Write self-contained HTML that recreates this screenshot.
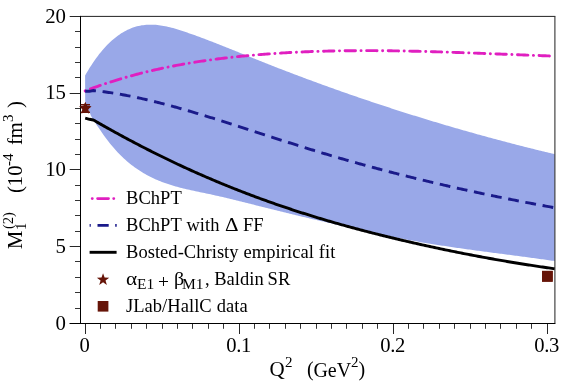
<!DOCTYPE html>
<html><head><meta charset="utf-8"><title>plot</title>
<style>
html,body{margin:0;padding:0;background:#fff;}
body{width:581px;height:388px;position:relative;overflow:hidden;font-family:"Liberation Serif",serif;color:#000;}
.t{position:absolute;white-space:pre;line-height:1;font-size:20px;}
.yl{text-align:right;width:40px;left:26px;}
.xl{text-align:center;width:60px;}
.lg{word-spacing:0.35px;letter-spacing:0.04px;}
.rot{transform-origin:0 0;transform:rotate(-90deg);}
</style></head><body>
<svg width="581" height="388" viewBox="0 0 581 388" style="position:absolute;left:0;top:0">
<rect width="581" height="388" fill="#fff"/>
<clipPath id="c"><rect x="80.5" y="16.4" width="474.4" height="307.1"/></clipPath>
<g clip-path="url(#c)">
<path d="M85.10,75.47 L86.67,72.76 L88.24,70.13 L89.81,67.60 L91.38,65.14 L92.96,62.78 L94.53,60.49 L96.10,58.29 L97.67,56.17 L99.24,54.12 L100.81,52.16 L102.38,50.28 L103.95,48.47 L105.53,46.74 L107.10,45.08 L108.67,43.50 L110.24,41.99 L111.81,40.55 L113.38,39.18 L114.95,37.88 L116.52,36.65 L118.10,35.48 L119.67,34.38 L121.24,33.35 L122.81,32.38 L124.38,31.48 L125.95,30.63 L127.52,29.85 L129.09,29.13 L130.67,28.46 L132.24,27.85 L133.81,27.30 L135.38,26.81 L136.95,26.37 L138.52,25.98 L140.09,25.65 L141.66,25.36 L143.24,25.13 L144.81,24.94 L146.38,24.81 L147.95,24.71 L149.52,24.66 L151.09,24.65 L152.66,24.69 L154.23,24.76 L155.81,24.87 L157.38,25.01 L158.95,25.19 L160.52,25.41 L162.09,25.65 L163.66,25.93 L165.23,26.23 L166.80,26.56 L168.38,26.91 L169.95,27.29 L171.52,27.69 L173.09,28.12 L174.66,28.56 L176.23,29.02 L177.80,29.49 L179.37,29.98 L180.95,30.48 L182.52,31.00 L184.09,31.52 L185.66,32.05 L187.23,32.59 L188.80,33.14 L190.37,33.69 L191.94,34.24 L193.52,34.80 L195.09,35.37 L196.66,35.94 L198.23,36.51 L199.80,37.09 L201.37,37.67 L202.94,38.26 L204.51,38.85 L206.09,39.44 L207.66,40.04 L209.23,40.64 L210.80,41.25 L212.37,41.86 L213.94,42.47 L215.51,43.08 L217.08,43.69 L218.66,44.31 L220.23,44.93 L221.80,45.55 L223.37,46.18 L224.94,46.80 L226.51,47.43 L228.08,48.06 L229.65,48.69 L231.23,49.32 L232.80,49.96 L234.37,50.59 L235.94,51.23 L237.51,51.86 L239.08,52.50 L240.65,53.13 L242.22,53.77 L243.79,54.40 L245.37,55.04 L246.94,55.68 L248.51,56.31 L250.08,56.94 L251.65,57.58 L253.22,58.21 L254.79,58.84 L256.36,59.47 L257.94,60.10 L259.51,60.73 L261.08,61.35 L262.65,61.98 L264.22,62.60 L265.79,63.22 L267.36,63.84 L268.93,64.46 L270.51,65.08 L272.08,65.69 L273.65,66.31 L275.22,66.92 L276.79,67.53 L278.36,68.14 L279.93,68.75 L281.50,69.36 L283.08,69.96 L284.65,70.57 L286.22,71.17 L287.79,71.77 L289.36,72.37 L290.93,72.97 L292.50,73.57 L294.07,74.16 L295.65,74.76 L297.22,75.35 L298.79,75.94 L300.36,76.53 L301.93,77.12 L303.50,77.71 L305.07,78.29 L306.64,78.88 L308.22,79.46 L309.79,80.04 L311.36,80.62 L312.93,81.20 L314.50,81.78 L316.07,82.36 L317.64,82.93 L319.21,83.50 L320.79,84.07 L322.36,84.65 L323.93,85.21 L325.50,85.78 L327.07,86.35 L328.64,86.91 L330.21,87.48 L331.78,88.04 L333.36,88.60 L334.93,89.16 L336.50,89.72 L338.07,90.27 L339.64,90.83 L341.21,91.38 L342.78,91.94 L344.35,92.49 L345.93,93.04 L347.50,93.58 L349.07,94.13 L350.64,94.68 L352.21,95.22 L353.78,95.76 L355.35,96.30 L356.92,96.84 L358.50,97.38 L360.07,97.92 L361.64,98.46 L363.21,98.99 L364.78,99.52 L366.35,100.06 L367.92,100.59 L369.49,101.12 L371.07,101.64 L372.64,102.17 L374.21,102.69 L375.78,103.22 L377.35,103.74 L378.92,104.26 L380.49,104.78 L382.06,105.30 L383.64,105.82 L385.21,106.33 L386.78,106.85 L388.35,107.36 L389.92,107.87 L391.49,108.38 L393.06,108.89 L394.63,109.40 L396.21,109.90 L397.78,110.41 L399.35,110.91 L400.92,111.41 L402.49,111.91 L404.06,112.41 L405.63,112.91 L407.20,113.41 L408.77,113.90 L410.35,114.39 L411.92,114.89 L413.49,115.38 L415.06,115.87 L416.63,116.36 L418.20,116.84 L419.77,117.33 L421.34,117.81 L422.92,118.30 L424.49,118.78 L426.06,119.26 L427.63,119.74 L429.20,120.22 L430.77,120.69 L432.34,121.17 L433.91,121.64 L435.49,122.12 L437.06,122.59 L438.63,123.06 L440.20,123.53 L441.77,123.99 L443.34,124.46 L444.91,124.92 L446.48,125.39 L448.06,125.85 L449.63,126.31 L451.20,126.77 L452.77,127.23 L454.34,127.68 L455.91,128.14 L457.48,128.59 L459.05,129.05 L460.63,129.50 L462.20,129.95 L463.77,130.40 L465.34,130.84 L466.91,131.29 L468.48,131.74 L470.05,132.18 L471.62,132.62 L473.20,133.06 L474.77,133.50 L476.34,133.94 L477.91,134.38 L479.48,134.81 L481.05,135.25 L482.62,135.68 L484.19,136.11 L485.77,136.55 L487.34,136.98 L488.91,137.40 L490.48,137.83 L492.05,138.26 L493.62,138.68 L495.19,139.10 L496.76,139.53 L498.34,139.95 L499.91,140.36 L501.48,140.78 L503.05,141.20 L504.62,141.61 L506.19,142.03 L507.76,142.44 L509.33,142.85 L510.91,143.26 L512.48,143.67 L514.05,144.08 L515.62,144.49 L517.19,144.89 L518.76,145.30 L520.33,145.70 L521.90,146.10 L523.48,146.50 L525.05,146.90 L526.62,147.30 L528.19,147.69 L529.76,148.09 L531.33,148.48 L532.90,148.87 L534.47,149.26 L536.05,149.65 L537.62,150.04 L539.19,150.43 L540.76,150.82 L542.33,151.20 L543.90,151.59 L545.47,151.97 L547.04,152.35 L548.62,152.73 L550.19,153.11 L551.76,153.49 L553.33,153.86 L554.90,154.24 L554.90,261.07 L553.38,260.85 L551.85,260.63 L550.33,260.41 L548.81,260.19 L547.28,259.98 L545.76,259.76 L544.24,259.55 L542.72,259.34 L541.19,259.13 L539.67,258.92 L538.15,258.71 L536.62,258.50 L535.10,258.29 L533.58,258.09 L532.05,257.88 L530.53,257.68 L529.01,257.47 L527.48,257.27 L525.96,257.07 L524.44,256.86 L522.92,256.66 L521.39,256.46 L519.87,256.26 L518.35,256.06 L516.82,255.86 L515.30,255.66 L513.78,255.46 L512.25,255.26 L510.73,255.06 L509.21,254.86 L507.68,254.67 L506.16,254.47 L504.64,254.27 L503.12,254.07 L501.59,253.87 L500.07,253.67 L498.55,253.47 L497.02,253.27 L495.50,253.08 L493.98,252.88 L492.45,252.68 L490.93,252.48 L489.41,252.28 L487.88,252.07 L486.36,251.87 L484.84,251.67 L483.32,251.47 L481.79,251.27 L480.27,251.06 L478.75,250.86 L477.22,250.65 L475.70,250.45 L474.18,250.24 L472.65,250.03 L471.13,249.82 L469.61,249.61 L468.08,249.40 L466.56,249.19 L465.04,248.98 L463.52,248.76 L461.99,248.55 L460.47,248.33 L458.95,248.12 L457.42,247.90 L455.90,247.68 L454.38,247.46 L452.85,247.23 L451.33,247.01 L449.81,246.78 L448.28,246.56 L446.76,246.33 L445.24,246.10 L443.72,245.86 L442.19,245.63 L440.67,245.39 L439.15,245.16 L437.62,244.92 L436.10,244.68 L434.58,244.43 L433.05,244.19 L431.53,243.94 L430.01,243.69 L428.48,243.44 L426.96,243.19 L425.44,242.93 L423.92,242.67 L422.39,242.41 L420.87,242.15 L419.35,241.89 L417.82,241.62 L416.30,241.35 L414.78,241.08 L413.25,240.80 L411.73,240.53 L410.21,240.25 L408.68,239.97 L407.16,239.68 L405.64,239.39 L404.12,239.10 L402.59,238.81 L401.07,238.52 L399.55,238.22 L398.02,237.92 L396.50,237.62 L394.98,237.32 L393.45,237.01 L391.93,236.70 L390.41,236.39 L388.88,236.08 L387.36,235.77 L385.84,235.45 L384.32,235.14 L382.79,234.82 L381.27,234.50 L379.75,234.17 L378.22,233.85 L376.70,233.53 L375.18,233.20 L373.65,232.87 L372.13,232.54 L370.61,232.21 L369.08,231.88 L367.56,231.55 L366.04,231.22 L364.52,230.88 L362.99,230.55 L361.47,230.21 L359.95,229.87 L358.42,229.53 L356.90,229.20 L355.38,228.86 L353.85,228.52 L352.33,228.18 L350.81,227.83 L349.28,227.49 L347.76,227.15 L346.24,226.81 L344.72,226.47 L343.19,226.12 L341.67,225.78 L340.15,225.43 L338.62,225.09 L337.10,224.74 L335.58,224.40 L334.05,224.05 L332.53,223.71 L331.01,223.36 L329.48,223.01 L327.96,222.66 L326.44,222.31 L324.92,221.96 L323.39,221.61 L321.87,221.26 L320.35,220.91 L318.82,220.56 L317.30,220.20 L315.78,219.85 L314.25,219.50 L312.73,219.14 L311.21,218.79 L309.68,218.43 L308.16,218.07 L306.64,217.71 L305.12,217.35 L303.59,216.99 L302.07,216.63 L300.55,216.27 L299.02,215.91 L297.50,215.55 L295.98,215.18 L294.45,214.82 L292.93,214.45 L291.41,214.08 L289.88,213.72 L288.36,213.35 L286.84,212.98 L285.32,212.61 L283.79,212.24 L282.27,211.86 L280.75,211.49 L279.22,211.12 L277.70,210.74 L276.18,210.36 L274.65,209.99 L273.13,209.61 L271.61,209.23 L270.08,208.85 L268.56,208.46 L267.04,208.08 L265.52,207.70 L263.99,207.31 L262.47,206.93 L260.95,206.54 L259.42,206.16 L257.90,205.77 L256.38,205.38 L254.85,205.00 L253.33,204.61 L251.81,204.22 L250.28,203.84 L248.76,203.45 L247.24,203.07 L245.72,202.69 L244.19,202.30 L242.67,201.92 L241.15,201.54 L239.62,201.16 L238.10,200.78 L236.58,200.41 L235.05,200.03 L233.53,199.66 L232.01,199.29 L230.48,198.92 L228.96,198.55 L227.44,198.19 L225.92,197.83 L224.39,197.47 L222.87,197.11 L221.35,196.76 L219.82,196.41 L218.30,196.06 L216.78,195.72 L215.25,195.38 L213.73,195.04 L212.21,194.70 L210.68,194.37 L209.16,194.05 L207.64,193.72 L206.12,193.40 L204.59,193.09 L203.07,192.77 L201.55,192.45 L200.02,192.13 L198.50,191.82 L196.98,191.50 L195.45,191.17 L193.93,190.85 L192.41,190.52 L190.88,190.18 L189.36,189.84 L187.84,189.50 L186.32,189.14 L184.79,188.78 L183.27,188.41 L181.75,188.03 L180.22,187.64 L178.70,187.24 L177.18,186.82 L175.65,186.40 L174.13,185.96 L172.61,185.51 L171.08,185.04 L169.56,184.56 L168.04,184.06 L166.52,183.54 L164.99,183.01 L163.47,182.45 L161.95,181.88 L160.42,181.29 L158.90,180.68 L157.38,180.04 L155.85,179.38 L154.33,178.70 L152.81,178.00 L151.28,177.27 L149.76,176.51 L148.24,175.73 L146.72,174.91 L145.19,174.07 L143.67,173.20 L142.15,172.29 L140.62,171.35 L139.10,170.37 L137.58,169.36 L136.05,168.31 L134.53,167.23 L133.01,166.10 L131.48,164.94 L129.96,163.73 L128.44,162.48 L126.92,161.18 L125.39,159.84 L123.87,158.46 L122.35,157.02 L120.82,155.54 L119.30,154.01 L117.78,152.43 L116.25,150.79 L114.73,149.10 L113.21,147.36 L111.68,145.56 L110.16,143.70 L108.64,141.79 L107.12,139.82 L105.59,137.78 L104.07,135.69 L102.55,133.53 L101.02,131.31 L99.50,129.02 L97.00,125.40 L92.30,118.30 L90.80,115.60 L89.70,112.20 L87.60,109.60 L86.00,107.00 L85.20,104.50Z" fill="#99a8e8"/>
<path d="M85.20,90.90 L86.77,90.30 L88.34,89.70 L89.91,89.12 L91.48,88.54 L93.05,87.96 L94.63,87.40 L96.20,86.84 L97.77,86.28 L99.34,85.73 L100.91,85.19 L102.48,84.65 L104.05,84.12 L105.62,83.59 L107.19,83.08 L108.76,82.56 L110.33,82.05 L111.91,81.55 L113.48,81.06 L115.05,80.56 L116.62,80.08 L118.19,79.60 L119.76,79.13 L121.33,78.66 L122.90,78.19 L124.47,77.74 L126.04,77.28 L127.61,76.84 L129.19,76.40 L130.76,75.96 L132.33,75.53 L133.90,75.10 L135.47,74.68 L137.04,74.27 L138.61,73.86 L140.18,73.45 L141.75,73.05 L143.32,72.66 L144.89,72.27 L146.47,71.88 L148.04,71.50 L149.61,71.13 L151.18,70.75 L152.75,70.39 L154.32,70.03 L155.89,69.67 L157.46,69.32 L159.03,68.97 L160.60,68.63 L162.17,68.29 L163.75,67.96 L165.32,67.63 L166.89,67.30 L168.46,66.98 L170.03,66.66 L171.60,66.35 L173.17,66.04 L174.74,65.74 L176.31,65.44 L177.88,65.15 L179.45,64.86 L181.03,64.57 L182.60,64.29 L184.17,64.01 L185.74,63.73 L187.31,63.46 L188.88,63.19 L190.45,62.93 L192.02,62.67 L193.59,62.42 L195.16,62.16 L196.73,61.92 L198.31,61.67 L199.88,61.43 L201.45,61.19 L203.02,60.96 L204.59,60.73 L206.16,60.50 L207.73,60.28 L209.30,60.06 L210.87,59.84 L212.44,59.63 L214.01,59.42 L215.58,59.21 L217.16,59.01 L218.73,58.81 L220.30,58.61 L221.87,58.42 L223.44,58.22 L225.01,58.04 L226.58,57.85 L228.15,57.67 L229.72,57.49 L231.29,57.31 L232.86,57.14 L234.44,56.97 L236.01,56.80 L237.58,56.63 L239.15,56.47 L240.72,56.31 L242.29,56.15 L243.86,56.00 L245.43,55.85 L247.00,55.70 L248.57,55.55 L250.14,55.40 L251.72,55.26 L253.29,55.12 L254.86,54.99 L256.43,54.85 L258.00,54.72 L259.57,54.59 L261.14,54.46 L262.71,54.34 L264.28,54.21 L265.85,54.09 L267.42,53.98 L269.00,53.86 L270.57,53.75 L272.14,53.64 L273.71,53.53 L275.28,53.42 L276.85,53.32 L278.42,53.22 L279.99,53.12 L281.56,53.02 L283.13,52.92 L284.70,52.83 L286.28,52.74 L287.85,52.65 L289.42,52.57 L290.99,52.48 L292.56,52.40 L294.13,52.32 L295.70,52.24 L297.27,52.17 L298.84,52.09 L300.41,52.02 L301.98,51.95 L303.56,51.88 L305.13,51.82 L306.70,51.75 L308.27,51.69 L309.84,51.63 L311.41,51.57 L312.98,51.52 L314.55,51.46 L316.12,51.41 L317.69,51.36 L319.26,51.31 L320.84,51.27 L322.41,51.22 L323.98,51.18 L325.55,51.14 L327.12,51.10 L328.69,51.06 L330.26,51.03 L331.83,50.99 L333.40,50.96 L334.97,50.93 L336.54,50.90 L338.12,50.87 L339.69,50.85 L341.26,50.82 L342.83,50.80 L344.40,50.78 L345.97,50.76 L347.54,50.74 L349.11,50.73 L350.68,50.71 L352.25,50.70 L353.82,50.69 L355.40,50.68 L356.97,50.67 L358.54,50.66 L360.11,50.66 L361.68,50.65 L363.25,50.65 L364.82,50.65 L366.39,50.65 L367.96,50.65 L369.53,50.65 L371.10,50.65 L372.68,50.66 L374.25,50.67 L375.82,50.67 L377.39,50.68 L378.96,50.69 L380.53,50.71 L382.10,50.72 L383.67,50.73 L385.24,50.75 L386.81,50.77 L388.38,50.78 L389.96,50.80 L391.53,50.82 L393.10,50.84 L394.67,50.87 L396.24,50.89 L397.81,50.91 L399.38,50.94 L400.95,50.97 L402.52,50.99 L404.09,51.02 L405.66,51.05 L407.24,51.08 L408.81,51.11 L410.38,51.15 L411.95,51.18 L413.52,51.21 L415.09,51.25 L416.66,51.29 L418.23,51.32 L419.80,51.36 L421.37,51.40 L422.94,51.44 L424.52,51.48 L426.09,51.52 L427.66,51.56 L429.23,51.61 L430.80,51.65 L432.37,51.69 L433.94,51.74 L435.51,51.78 L437.08,51.83 L438.65,51.88 L440.22,51.92 L441.79,51.97 L443.37,52.02 L444.94,52.07 L446.51,52.12 L448.08,52.17 L449.65,52.22 L451.22,52.28 L452.79,52.33 L454.36,52.38 L455.93,52.43 L457.50,52.49 L459.07,52.54 L460.65,52.60 L462.22,52.65 L463.79,52.71 L465.36,52.76 L466.93,52.82 L468.50,52.88 L470.07,52.93 L471.64,52.99 L473.21,53.05 L474.78,53.11 L476.35,53.17 L477.93,53.22 L479.50,53.28 L481.07,53.34 L482.64,53.40 L484.21,53.46 L485.78,53.52 L487.35,53.58 L488.92,53.64 L490.49,53.70 L492.06,53.76 L493.63,53.82 L495.21,53.88 L496.78,53.95 L498.35,54.01 L499.92,54.07 L501.49,54.13 L503.06,54.19 L504.63,54.25 L506.20,54.31 L507.77,54.37 L509.34,54.43 L510.91,54.50 L512.49,54.56 L514.06,54.62 L515.63,54.68 L517.20,54.74 L518.77,54.80 L520.34,54.86 L521.91,54.92 L523.48,54.98 L525.05,55.04 L526.62,55.10 L528.19,55.16 L529.77,55.22 L531.34,55.28 L532.91,55.34 L534.48,55.40 L536.05,55.45 L537.62,55.51 L539.19,55.57 L540.76,55.63 L542.33,55.68 L543.90,55.74 L545.47,55.80 L547.05,55.85 L548.62,55.91 L550.19,55.96 L551.76,56.02 L553.33,56.07 L554.90,56.12" fill="none" stroke="#e01fc0" stroke-width="2.9" stroke-linecap="round" stroke-dasharray="0.1 5.52 10.42 5.52" stroke-dashoffset="0"/>
<path d="M85.20,91.25 L89.50,91.30 L93.30,90.55 L94.84,90.71 L96.39,90.87 L97.93,91.04 L99.48,91.22 L101.02,91.41 L102.56,91.60 L104.11,91.80 L105.65,92.01 L107.19,92.22 L108.74,92.44 L110.28,92.67 L111.83,92.90 L113.37,93.14 L114.91,93.38 L116.46,93.64 L118.00,93.89 L119.54,94.16 L121.09,94.43 L122.63,94.71 L124.18,94.99 L125.72,95.28 L127.26,95.57 L128.81,95.87 L130.35,96.17 L131.90,96.48 L133.44,96.80 L134.98,97.12 L136.53,97.44 L138.07,97.78 L139.61,98.11 L141.16,98.45 L142.70,98.80 L144.25,99.15 L145.79,99.50 L147.33,99.86 L148.88,100.23 L150.42,100.59 L151.96,100.97 L153.51,101.34 L155.05,101.73 L156.60,102.11 L158.14,102.50 L159.68,102.89 L161.23,103.29 L162.77,103.69 L164.32,104.09 L165.86,104.50 L167.40,104.91 L168.95,105.33 L170.49,105.75 L172.03,106.17 L173.58,106.59 L175.12,107.02 L176.67,107.45 L178.21,107.88 L179.75,108.32 L181.30,108.76 L182.84,109.20 L184.38,109.64 L185.93,110.09 L187.47,110.54 L189.02,110.99 L190.56,111.44 L192.10,111.90 L193.65,112.35 L195.19,112.81 L196.74,113.27 L198.28,113.74 L199.82,114.20 L201.37,114.67 L202.91,115.14 L204.45,115.61 L206.00,116.08 L207.54,116.55 L209.09,117.03 L210.63,117.51 L212.17,117.98 L213.72,118.46 L215.26,118.94 L216.81,119.43 L218.35,119.91 L219.89,120.39 L221.44,120.88 L222.98,121.37 L224.52,121.86 L226.07,122.34 L227.61,122.84 L229.16,123.33 L230.70,123.82 L232.24,124.31 L233.79,124.81 L235.33,125.30 L236.87,125.80 L238.42,126.29 L239.96,126.79 L241.51,127.29 L243.05,127.78 L244.59,128.28 L246.14,128.78 L247.68,129.28 L249.23,129.78 L250.77,130.28 L252.31,130.78 L253.86,131.28 L255.40,131.78 L256.94,132.28 L258.49,132.78 L260.03,133.28 L261.58,133.78 L263.12,134.29 L264.66,134.79 L266.21,135.29 L267.75,135.79 L269.29,136.29 L270.84,136.79 L272.38,137.29 L273.93,137.79 L275.47,138.29 L277.01,138.78 L278.56,139.28 L280.10,139.78 L281.65,140.28 L283.19,140.77 L284.73,141.27 L286.28,141.76 L287.82,142.26 L289.36,142.75 L290.91,143.24 L292.45,143.73 L294.00,144.22 L295.54,144.71 L297.08,145.20 L298.63,145.69 L300.17,146.17 L301.71,146.66 L303.26,147.14 L304.80,147.62 L306.35,148.10 L307.89,148.58 L309.43,149.06 L310.98,149.54 L312.52,150.01 L314.07,150.48 L315.61,150.96 L317.15,151.43 L318.70,151.90 L320.24,152.36 L321.78,152.83 L323.33,153.29 L324.87,153.75 L326.42,154.22 L327.96,154.68 L329.50,155.13 L331.05,155.59 L332.59,156.04 L334.13,156.50 L335.68,156.95 L337.22,157.40 L338.77,157.85 L340.31,158.30 L341.85,158.74 L343.40,159.19 L344.94,159.63 L346.49,160.07 L348.03,160.51 L349.57,160.95 L351.12,161.39 L352.66,161.82 L354.20,162.26 L355.75,162.69 L357.29,163.12 L358.84,163.55 L360.38,163.98 L361.92,164.40 L363.47,164.83 L365.01,165.25 L366.55,165.68 L368.10,166.10 L369.64,166.52 L371.19,166.93 L372.73,167.35 L374.27,167.77 L375.82,168.18 L377.36,168.59 L378.91,169.00 L380.45,169.41 L381.99,169.82 L383.54,170.23 L385.08,170.64 L386.62,171.04 L388.17,171.44 L389.71,171.84 L391.26,172.24 L392.80,172.64 L394.34,173.04 L395.89,173.44 L397.43,173.83 L398.97,174.23 L400.52,174.62 L402.06,175.01 L403.61,175.40 L405.15,175.79 L406.69,176.17 L408.24,176.56 L409.78,176.94 L411.33,177.32 L412.87,177.71 L414.41,178.09 L415.96,178.47 L417.50,178.84 L419.04,179.22 L420.59,179.59 L422.13,179.97 L423.68,180.34 L425.22,180.71 L426.76,181.08 L428.31,181.45 L429.85,181.82 L431.39,182.18 L432.94,182.55 L434.48,182.91 L436.03,183.28 L437.57,183.64 L439.11,184.00 L440.66,184.36 L442.20,184.71 L443.75,185.07 L445.29,185.42 L446.83,185.78 L448.38,186.13 L449.92,186.48 L451.46,186.83 L453.01,187.18 L454.55,187.53 L456.10,187.88 L457.64,188.22 L459.18,188.57 L460.73,188.91 L462.27,189.25 L463.82,189.59 L465.36,189.93 L466.90,190.27 L468.45,190.61 L469.99,190.94 L471.53,191.28 L473.08,191.61 L474.62,191.94 L476.17,192.27 L477.71,192.61 L479.25,192.93 L480.80,193.26 L482.34,193.59 L483.88,193.92 L485.43,194.24 L486.97,194.56 L488.52,194.89 L490.06,195.21 L491.60,195.53 L493.15,195.85 L494.69,196.17 L496.24,196.48 L497.78,196.80 L499.32,197.11 L500.87,197.43 L502.41,197.74 L503.95,198.05 L505.50,198.36 L507.04,198.67 L508.59,198.98 L510.13,199.29 L511.67,199.59 L513.22,199.90 L514.76,200.20 L516.30,200.51 L517.85,200.81 L519.39,201.11 L520.94,201.41 L522.48,201.71 L524.02,202.01 L525.57,202.31 L527.11,202.60 L528.66,202.90 L530.20,203.19 L531.74,203.48 L533.29,203.78 L534.83,204.07 L536.37,204.36 L537.92,204.65 L539.46,204.94 L541.01,205.22 L542.55,205.51 L544.09,205.79 L545.64,206.08 L547.18,206.36 L548.72,206.65 L550.27,206.93 L551.81,207.21 L553.36,207.49 L554.90,207.77" fill="none" stroke="#1a1a8a" stroke-width="2.9" stroke-dasharray="10.8 6.7"/>
<path d="M85.20,118.20 L89.50,119.30 L93.30,119.96 L94.84,120.85 L96.39,121.73 L97.93,122.62 L99.48,123.50 L101.02,124.38 L102.56,125.25 L104.11,126.13 L105.65,127.00 L107.19,127.86 L108.74,128.73 L110.28,129.59 L111.83,130.45 L113.37,131.30 L114.91,132.15 L116.46,133.00 L118.00,133.85 L119.54,134.69 L121.09,135.53 L122.63,136.37 L124.18,137.20 L125.72,138.03 L127.26,138.86 L128.81,139.69 L130.35,140.51 L131.90,141.33 L133.44,142.14 L134.98,142.96 L136.53,143.77 L138.07,144.57 L139.61,145.37 L141.16,146.18 L142.70,146.97 L144.25,147.77 L145.79,148.56 L147.33,149.35 L148.88,150.13 L150.42,150.91 L151.96,151.69 L153.51,152.47 L155.05,153.24 L156.60,154.01 L158.14,154.77 L159.68,155.54 L161.23,156.30 L162.77,157.05 L164.32,157.81 L165.86,158.56 L167.40,159.30 L168.95,160.05 L170.49,160.79 L172.03,161.53 L173.58,162.26 L175.12,162.99 L176.67,163.72 L178.21,164.44 L179.75,165.17 L181.30,165.89 L182.84,166.60 L184.38,167.31 L185.93,168.02 L187.47,168.73 L189.02,169.43 L190.56,170.13 L192.10,170.83 L193.65,171.52 L195.19,172.21 L196.74,172.90 L198.28,173.58 L199.82,174.26 L201.37,174.94 L202.91,175.62 L204.45,176.29 L206.00,176.96 L207.54,177.63 L209.09,178.29 L210.63,178.95 L212.17,179.60 L213.72,180.26 L215.26,180.91 L216.81,181.56 L218.35,182.20 L219.89,182.84 L221.44,183.48 L222.98,184.12 L224.52,184.75 L226.07,185.38 L227.61,186.01 L229.16,186.63 L230.70,187.25 L232.24,187.87 L233.79,188.49 L235.33,189.10 L236.87,189.71 L238.42,190.32 L239.96,190.92 L241.51,191.52 L243.05,192.12 L244.59,192.71 L246.14,193.30 L247.68,193.89 L249.23,194.48 L250.77,195.06 L252.31,195.64 L253.86,196.22 L255.40,196.80 L256.94,197.37 L258.49,197.94 L260.03,198.50 L261.58,199.07 L263.12,199.63 L264.66,200.19 L266.21,200.74 L267.75,201.29 L269.29,201.84 L270.84,202.39 L272.38,202.93 L273.93,203.47 L275.47,204.01 L277.01,204.55 L278.56,205.08 L280.10,205.61 L281.65,206.14 L283.19,206.66 L284.73,207.19 L286.28,207.71 L287.82,208.22 L289.36,208.74 L290.91,209.25 L292.45,209.76 L294.00,210.26 L295.54,210.77 L297.08,211.27 L298.63,211.77 L300.17,212.27 L301.71,212.76 L303.26,213.25 L304.80,213.74 L306.35,214.23 L307.89,214.71 L309.43,215.19 L310.98,215.67 L312.52,216.15 L314.07,216.62 L315.61,217.10 L317.15,217.57 L318.70,218.03 L320.24,218.50 L321.78,218.96 L323.33,219.42 L324.87,219.88 L326.42,220.34 L327.96,220.79 L329.50,221.24 L331.05,221.69 L332.59,222.14 L334.13,222.58 L335.68,223.03 L337.22,223.47 L338.77,223.90 L340.31,224.34 L341.85,224.78 L343.40,225.21 L344.94,225.64 L346.49,226.07 L348.03,226.49 L349.57,226.92 L351.12,227.34 L352.66,227.76 L354.20,228.18 L355.75,228.59 L357.29,229.00 L358.84,229.42 L360.38,229.83 L361.92,230.24 L363.47,230.64 L365.01,231.05 L366.55,231.45 L368.10,231.85 L369.64,232.25 L371.19,232.64 L372.73,233.04 L374.27,233.43 L375.82,233.82 L377.36,234.21 L378.91,234.60 L380.45,234.99 L381.99,235.37 L383.54,235.76 L385.08,236.14 L386.62,236.52 L388.17,236.89 L389.71,237.27 L391.26,237.64 L392.80,238.02 L394.34,238.39 L395.89,238.76 L397.43,239.13 L398.97,239.49 L400.52,239.86 L402.06,240.22 L403.61,240.58 L405.15,240.94 L406.69,241.30 L408.24,241.66 L409.78,242.01 L411.33,242.37 L412.87,242.72 L414.41,243.07 L415.96,243.42 L417.50,243.77 L419.04,244.12 L420.59,244.46 L422.13,244.81 L423.68,245.15 L425.22,245.49 L426.76,245.83 L428.31,246.17 L429.85,246.51 L431.39,246.84 L432.94,247.18 L434.48,247.51 L436.03,247.84 L437.57,248.17 L439.11,248.50 L440.66,248.83 L442.20,249.15 L443.75,249.47 L445.29,249.80 L446.83,250.12 L448.38,250.44 L449.92,250.75 L451.46,251.07 L453.01,251.38 L454.55,251.70 L456.10,252.01 L457.64,252.32 L459.18,252.63 L460.73,252.94 L462.27,253.24 L463.82,253.55 L465.36,253.85 L466.90,254.15 L468.45,254.45 L469.99,254.75 L471.53,255.04 L473.08,255.34 L474.62,255.63 L476.17,255.93 L477.71,256.22 L479.25,256.51 L480.80,256.79 L482.34,257.08 L483.88,257.36 L485.43,257.65 L486.97,257.93 L488.52,258.21 L490.06,258.49 L491.60,258.76 L493.15,259.04 L494.69,259.31 L496.24,259.59 L497.78,259.86 L499.32,260.13 L500.87,260.40 L502.41,260.66 L503.95,260.93 L505.50,261.19 L507.04,261.45 L508.59,261.71 L510.13,261.97 L511.67,262.23 L513.22,262.48 L514.76,262.74 L516.30,262.99 L517.85,263.24 L519.39,263.49 L520.94,263.74 L522.48,263.98 L524.02,264.23 L525.57,264.47 L527.11,264.71 L528.66,264.95 L530.20,265.19 L531.74,265.43 L533.29,265.66 L534.83,265.90 L536.37,266.13 L537.92,266.36 L539.46,266.59 L541.01,266.82 L542.55,267.04 L544.09,267.27 L545.64,267.49 L547.18,267.71 L548.72,267.93 L550.27,268.15 L551.81,268.37 L553.36,268.58 L554.90,268.79" fill="none" stroke="#000" stroke-width="2.9" stroke-linejoin="round"/>
</g>
<polygon points="85.30,101.95 87.17,105.73 91.34,106.34 88.32,109.28 89.03,113.44 85.30,111.47 81.57,113.44 82.28,109.28 79.26,106.34 83.43,105.73" fill="#661408"/>
<rect x="542" y="270.9" width="10.7" height="10.8" fill="#661408"/>
<path d="M80.5,16.4 H555.4" fill="none" stroke="#222" stroke-width="1"/>
<path d="M554.9,16.4 V323.5" fill="none" stroke="#333" stroke-width="1.1"/>
<path d="M80.5,15.899999999999999 V324.0 M69.7,323.5 H555.4" fill="none" stroke="#000" stroke-width="1"/>
<polygon points="85.40,102.00 86.90,106.33 91.49,106.42 87.83,109.19 89.16,113.58 85.40,110.96 81.64,113.58 82.97,109.19 79.31,106.42 83.90,106.33" fill="#661408"/>
<path d="M80.7,104.85 H90 M80.7,112.15 H90 M85.4,104.5 V112.5" stroke="#661408" stroke-width="1.5" fill="none"/>
<rect x="542" y="270.9" width="10.7" height="10.8" fill="#661408"/>
<path d="M69.7,323.50 H80.5" stroke="#000" stroke-width="0.85"/>
<path d="M75,308.50 H80.5" stroke="#000" stroke-width="0.8"/>
<path d="M75,292.50 H80.5" stroke="#000" stroke-width="0.8"/>
<path d="M75,277.50 H80.5" stroke="#000" stroke-width="0.8"/>
<path d="M75,261.50 H80.5" stroke="#000" stroke-width="0.8"/>
<path d="M69.7,246.50 H80.5" stroke="#000" stroke-width="0.85"/>
<path d="M75,231.50 H80.5" stroke="#000" stroke-width="0.8"/>
<path d="M75,215.50 H80.5" stroke="#000" stroke-width="0.8"/>
<path d="M75,200.50 H80.5" stroke="#000" stroke-width="0.8"/>
<path d="M75,185.50 H80.5" stroke="#000" stroke-width="0.8"/>
<path d="M69.7,169.50 H80.5" stroke="#000" stroke-width="0.85"/>
<path d="M75,154.50 H80.5" stroke="#000" stroke-width="0.8"/>
<path d="M75,139.50 H80.5" stroke="#000" stroke-width="0.8"/>
<path d="M75,123.50 H80.5" stroke="#000" stroke-width="0.8"/>
<path d="M75,108.50 H80.5" stroke="#000" stroke-width="0.8"/>
<path d="M69.7,93.50 H80.5" stroke="#000" stroke-width="0.85"/>
<path d="M75,77.50 H80.5" stroke="#000" stroke-width="0.8"/>
<path d="M75,62.50 H80.5" stroke="#000" stroke-width="0.8"/>
<path d="M75,47.50 H80.5" stroke="#000" stroke-width="0.8"/>
<path d="M75,31.50 H80.5" stroke="#000" stroke-width="0.8"/>
<path d="M69.7,16.50 H80.5" stroke="#000" stroke-width="0.85"/>
<path d="M85.50,323.5 V334" stroke="#000" stroke-width="0.85"/>
<path d="M100.50,323.5 V328.8" stroke="#000" stroke-width="0.8"/>
<path d="M115.50,323.5 V328.8" stroke="#000" stroke-width="0.8"/>
<path d="M131.50,323.5 V328.8" stroke="#000" stroke-width="0.8"/>
<path d="M146.50,323.5 V328.8" stroke="#000" stroke-width="0.8"/>
<path d="M162.50,323.5 V328.8" stroke="#000" stroke-width="0.8"/>
<path d="M177.50,323.5 V328.8" stroke="#000" stroke-width="0.8"/>
<path d="M192.50,323.5 V328.8" stroke="#000" stroke-width="0.8"/>
<path d="M208.50,323.5 V328.8" stroke="#000" stroke-width="0.8"/>
<path d="M223.50,323.5 V328.8" stroke="#000" stroke-width="0.8"/>
<path d="M239.50,323.5 V334" stroke="#000" stroke-width="0.85"/>
<path d="M254.50,323.5 V328.8" stroke="#000" stroke-width="0.8"/>
<path d="M269.50,323.5 V328.8" stroke="#000" stroke-width="0.8"/>
<path d="M285.50,323.5 V328.8" stroke="#000" stroke-width="0.8"/>
<path d="M300.50,323.5 V328.8" stroke="#000" stroke-width="0.8"/>
<path d="M316.50,323.5 V328.8" stroke="#000" stroke-width="0.8"/>
<path d="M331.50,323.5 V328.8" stroke="#000" stroke-width="0.8"/>
<path d="M346.50,323.5 V328.8" stroke="#000" stroke-width="0.8"/>
<path d="M362.50,323.5 V328.8" stroke="#000" stroke-width="0.8"/>
<path d="M377.50,323.5 V328.8" stroke="#000" stroke-width="0.8"/>
<path d="M393.50,323.5 V334" stroke="#000" stroke-width="0.85"/>
<path d="M408.50,323.5 V328.8" stroke="#000" stroke-width="0.8"/>
<path d="M423.50,323.5 V328.8" stroke="#000" stroke-width="0.8"/>
<path d="M439.50,323.5 V328.8" stroke="#000" stroke-width="0.8"/>
<path d="M454.50,323.5 V328.8" stroke="#000" stroke-width="0.8"/>
<path d="M470.50,323.5 V328.8" stroke="#000" stroke-width="0.8"/>
<path d="M485.50,323.5 V328.8" stroke="#000" stroke-width="0.8"/>
<path d="M500.50,323.5 V328.8" stroke="#000" stroke-width="0.8"/>
<path d="M516.50,323.5 V328.8" stroke="#000" stroke-width="0.8"/>
<path d="M531.50,323.5 V328.8" stroke="#000" stroke-width="0.8"/>
<path d="M547.50,323.5 V334" stroke="#000" stroke-width="0.85"/>
<path d="M92.2,198.6 h0.1 M97.6,198.6 H108.5 M113.7,198.6 h0.1" stroke="#e01fc0" stroke-width="2.8" stroke-linecap="round"/>
<path d="M89.6,225.4 H90.8 M97.5,225.4 H108.7 M115.2,225.4 H116.7" stroke="#1a1a8a" stroke-width="2.9"/>
<path d="M89.6,252.3 H116.6" stroke="#000" stroke-width="2.9"/>
<polygon points="103.05,273.20 104.58,277.60 109.23,277.69 105.52,280.50 106.87,284.96 103.05,282.30 99.23,284.96 100.58,280.50 96.87,277.69 101.52,277.60" fill="#661408"/>
<rect x="97.7" y="301" width="10.7" height="10.6" fill="#661408"/>
</svg>
<div id="txt" style="position:absolute;left:0;top:0;width:581px;height:388px;will-change:transform;">
<div class="t yl" style="font-size:20.8px;top:5.58px">20</div>
<div class="t yl" style="font-size:20.8px;top:82.35px">15</div>
<div class="t yl" style="font-size:20.8px;top:159.13px">10</div>
<div class="t yl" style="font-size:20.8px;top:235.90px">5</div>
<div class="t yl" style="font-size:20.8px;top:312.68px">0</div>
<div class="t xl" style="font-size:20.6px;letter-spacing:-0.25px;left:54.65px;top:335.15px">0</div>
<div class="t xl" style="font-size:20.6px;letter-spacing:-0.25px;left:208.65px;top:335.15px">0.1</div>
<div class="t xl" style="font-size:20.6px;letter-spacing:-0.25px;left:362.65px;top:335.15px">0.2</div>
<div class="t xl" style="font-size:20.6px;letter-spacing:-0.25px;left:516.65px;top:335.15px">0.3</div>
<div class="t " id=xt1 style="left:269.60px;top:359.31px;font-size:21px;">Q</div>
<div class="t "  style="left:284.90px;top:355.24px;font-size:15px;">2</div>
<div class="t " id=xt2 style="left:307.10px;top:358.85px;font-size:20px;">(</div>
<div class="t "  style="left:313.40px;top:360.15px;font-size:20px;">GeV</div>
<div class="t "  style="left:350.90px;top:355.34px;font-size:15px;">2</div>
<div class="t "  style="left:358.40px;top:358.85px;font-size:20px;">)</div>
<div class="t lg" id=l1 style="left:126.00px;top:189.21px;font-size:18.5px;">BChPT</div>
<div class="t lg" id=l2 style="left:126.00px;top:216.11px;font-size:18.5px;">BChPT with</div>
<div class="t " id=l2d style="left:224.50px;top:215.27px;font-size:19.5px;transform:scaleX(1.08);transform-origin:0 0;">&#916;</div>
<div class="t lg" id=l2f style="left:242.90px;top:216.11px;font-size:18.5px;">FF</div>
<div class="t lg" id=l3 style="left:126.00px;top:243.11px;font-size:18.5px;">Bosted-Christy empirical fit</div>
<div class="t " id=l4a style="left:125.80px;top:270.01px;font-size:18.5px;transform:scaleX(1.15);transform-origin:0 0;">&#945;</div>
<div class="t " id=l4b style="left:136.50px;top:277.26px;font-size:14.5px;transform:scaleX(1.07);transform-origin:0 0;">E1</div>
<div class="t " id=l4c style="left:157.60px;top:272.61px;font-size:18.5px;transform:scaleX(1.05);transform-origin:0 0;">+</div>
<div class="t " id=l4d style="left:174.30px;top:270.01px;font-size:18.5px;transform:scaleX(1.08);transform-origin:0 0;">&#946;</div>
<div class="t " id=l4e style="left:182.40px;top:277.26px;font-size:14.5px;transform:scaleX(1.07);transform-origin:0 0;">M1</div>
<div class="t " id=l4f style="left:205.00px;top:270.01px;font-size:18.5px;">,</div>
<div class="t lg" id=l4g style="left:214.20px;top:270.01px;font-size:18.5px;">Baldin</div>
<div class="t lg" id=l4h style="left:267.60px;top:270.01px;font-size:18.5px;">SR</div>
<div class="t lg" id=l5 style="left:126.00px;top:296.71px;font-size:18.5px;">JLab/HallC data</div>
<div class="t rot" id=ym style="left:4.65px;top:249.10px;font-size:20.6px">M</div>
<div class="t rot" id=ysup style="left:0.86px;top:228.70px;font-size:14.5px">(2)</div>
<div class="t rot" id=ysub style="left:14.16px;top:230.00px;font-size:14.5px">1</div>
<div class="t rot" id=yu1 style="left:4.65px;top:193.20px;font-size:20.6px">(10</div>
<div class="t rot" id=yu2 style="left:0.64px;top:166.20px;font-size:15px">-4</div>
<div class="t rot" id=yu3 style="left:4.65px;top:145.10px;font-size:20.6px">fm</div>
<div class="t rot" id=yu4 style="left:0.74px;top:121.90px;font-size:15px">3</div>
<div class="t rot" id=yu5 style="left:4.55px;top:108.40px;font-size:20.6px">)</div>
</div>
</body></html>
